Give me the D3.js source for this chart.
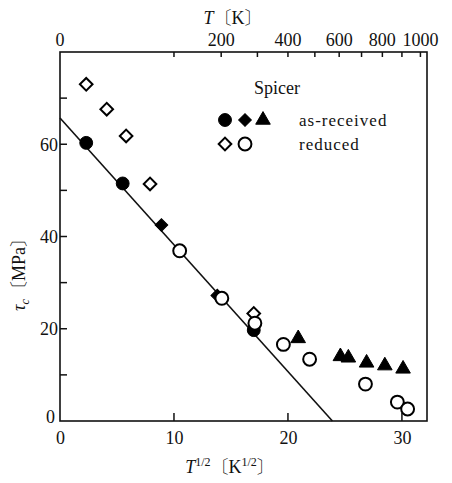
<!DOCTYPE html>
<html>
<head>
<meta charset="utf-8">
<script src="https://cdn.jsdelivr.net/npm/d3@7"></script>
<style>
  body { margin: 0; background: #fff; }
</style>
</head>
<body>
<div id="chart"></div>
<script>
// as-received (filled) series
const recvCircles = [[2.3, 60.3], [5.5, 51.5], [17.0, 19.7]];
const recvDiamonds = [[8.9, 42.5], [13.8, 27.2]];
const recvTriangles = [[20.9, 17.9], [24.6, 14.0], [25.3, 13.7], [26.9, 12.6], [28.5, 12.0], [30.1, 11.3]];
// reduced (open) series
const redDiamonds = [[2.3, 73.0], [4.1, 67.6], [5.8, 61.8], [7.9, 51.4], [17.0, 23.3]];
const redCircles = [[10.5, 36.9], [14.2, 26.6], [17.1, 21.2], [19.6, 16.6], [21.9, 13.4], [26.8, 8.0], [29.6, 4.1], [30.5, 2.6]];
// fitted line
const fitLine = [[0, 65.7], [23.9, 0]];

const xTicks = [0, 10, 20, 30];
const yTicks = [0, 10, 20, 30, 40, 50, 60, 70];
const yLabels = [0, 20, 40, 60];
const topTicks = [100, 200, 300, 400, 500, 600, 700, 800, 900, 1000];
const topLabels = [0, 200, 400, 600, 800, 1000];

const width = 452, height = 483;
const marginLeft = 60, marginRight = 25, marginTop = 52, marginBottom = 62;
const serif = "'Liberation Serif', 'Noto Serif CJK JP'";

const x = d3.scaleLinear().domain([0, 32.2]).range([marginLeft, width - marginRight]);
const y = d3.scaleLinear().domain([0, 80]).range([height - marginBottom, marginTop]);

const svg = d3.create("svg").attr("width", width).attr("height", height);

function label(sel) {
  return sel.style("font-family", serif).attr("fill", "#111");
}

// frame
svg.append("rect")
  .attr("x", x(0)).attr("y", y(80))
  .attr("width", x(32.2) - x(0)).attr("height", y(0) - y(80))
  .attr("fill", "none").attr("stroke", "#111").attr("stroke-width", 1.6);

// bottom axis
svg.append("g")
  .attr("transform", `translate(0,${y(0)})`)
  .call(d3.axisBottom(x).tickValues(xTicks).tickSize(0).tickPadding(9).tickFormat(d3.format("d")))
  .call(g => g.select(".domain").remove())
  .call(g => label(g.selectAll("text")).attr("font-size", 18).attr("dy", "0.75em"));
svg.append("g").selectAll("line").data(xTicks.filter(d => d > 0)).join("line")
  .attr("x1", d => x(d)).attr("x2", d => x(d))
  .attr("y1", y(0)).attr("y2", y(0) - 8)
  .attr("stroke", "#111").attr("stroke-width", 1.5);

// left axis
svg.append("g").selectAll("line").data(yTicks.filter(d => d > 0)).join("line")
  .attr("x1", x(0)).attr("x2", x(0) + 7)
  .attr("y1", d => y(d)).attr("y2", d => y(d))
  .attr("stroke", "#111").attr("stroke-width", 1.5);
label(svg.append("g").selectAll("text").data(yLabels).join("text"))
  .attr("x", d => d === 0 ? x(0) - 5 : x(0) - 2)
  .attr("y", d => d === 0 ? y(d) - 4 : y(d))
  .attr("dy", "0.35em")
  .attr("text-anchor", "end")
  .attr("font-size", 18)
  .text(d => d);

// top axis: T in K, placed at sqrt(T)
svg.append("g").selectAll("line").data(topTicks).join("line")
  .attr("x1", d => x(Math.sqrt(d))).attr("x2", d => x(Math.sqrt(d)))
  .attr("y1", y(80)).attr("y2", y(80) + 5)
  .attr("stroke", "#111").attr("stroke-width", 1.5);
label(svg.append("g").selectAll("text").data(topLabels).join("text"))
  .attr("x", d => x(Math.sqrt(d)))
  .attr("y", y(80) - 6)
  .attr("text-anchor", "middle")
  .attr("font-size", 18)
  .text(d => d);

// axis titles
const topTitle = label(svg.append("text"))
  .attr("x", 233).attr("y", 24).attr("text-anchor", "middle").attr("font-size", 18);
topTitle.append("tspan").attr("font-style", "italic").text("T");
topTitle.append("tspan").text("〔K〕");

const bottomTitle = label(svg.append("text"))
  .attr("x", 230).attr("y", 473).attr("text-anchor", "middle").attr("font-size", 18);
bottomTitle.append("tspan").attr("font-style", "italic").text("T");
bottomTitle.append("tspan").attr("font-size", 12).attr("dy", -7).text("1/2");
bottomTitle.append("tspan").attr("dy", 7).text("〔K");
bottomTitle.append("tspan").attr("font-size", 12).attr("dy", -7).text("1/2");
bottomTitle.append("tspan").attr("dy", 7).text("〕");

const leftTitle = label(svg.append("text"))
  .attr("transform", "translate(25,270) rotate(-90)")
  .attr("text-anchor", "middle").attr("font-size", 18);
leftTitle.append("tspan").attr("font-style", "italic").text("τ");
leftTitle.append("tspan").attr("font-style", "italic").attr("font-size", 12).attr("dy", 4).text("c");
leftTitle.append("tspan").attr("dy", -4).text("〔MPa〕");

// fitted line
svg.append("path")
  .attr("fill", "none").attr("stroke", "#111").attr("stroke-width", 1.6)
  .attr("d", d3.line().x(d => x(d[0])).y(d => y(d[1]))(fitLine));

// markers
const sym = {
  circle: d3.symbol().type(d3.symbolCircle).size(130),
  diamond: d3.symbol().type(d3.symbolSquare).size(80),
  triangle: d3.symbol().type(d3.symbolTriangle).size(92)
};

function drawSeries(data, kind, filled) {
  svg.append("g").selectAll("path").data(data).join("path")
    .attr("d", sym[kind]())
    .attr("transform", d => `translate(${x(d[0])},${y(d[1])})` + (kind === "diamond" ? " rotate(45)" : ""))
    .attr("fill", filled ? "#000" : "#fff")
    .attr("stroke", "#000")
    .attr("stroke-width", filled ? 1 : 2);
}

drawSeries(redDiamonds, "diamond", false);
drawSeries(recvCircles, "circle", true);
drawSeries(recvDiamonds, "diamond", true);
drawSeries(recvTriangles, "triangle", true);
drawSeries(redCircles, "circle", false);

// legend
const legend = svg.append("g");
label(legend.append("text")).attr("x", 254).attr("y", 94).attr("font-size", 18).text("Spicer");
const legendRows = [
  { y: 120, items: [["circle", true, 225], ["diamond", true, 245], ["triangle", true, 263]], label: "as-received" },
  { y: 144, items: [["diamond", false, 225], ["circle", false, 245]], label: "reduced" }
];
legendRows.forEach(row => {
  row.items.forEach(([kind, filled, px]) => {
    legend.append("path")
      .attr("d", sym[kind]())
      .attr("transform", `translate(${px},${row.y})` + (kind === "diamond" ? " rotate(45)" : ""))
      .attr("fill", filled ? "#000" : "#fff")
      .attr("stroke", "#000")
      .attr("stroke-width", filled ? 1 : 2);
  });
  label(legend.append("text")).attr("x", 299).attr("y", row.y).attr("dy", "0.35em")
    .attr("font-size", 17).attr("letter-spacing", 1).text(row.label);
});

document.getElementById("chart").append(svg.node());
</script>
</body>
</html>
